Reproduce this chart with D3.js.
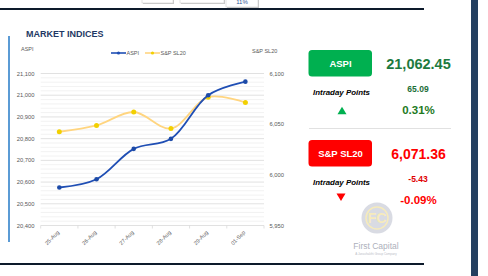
<!DOCTYPE html>
<html>
<head>
<meta charset="utf-8">
<script src="https://cdn.jsdelivr.net/npm/d3@7"></script>
<style>
	body { margin: 0; background: #fff; }
	svg { display: block; font-family: 'Liberation Sans', Arial, sans-serif; }
</style>
</head>
<body>
<script>
// chart data
const dates = ['25-Aug', '26-Aug', '27-Aug', '28-Aug', '29-Aug', '01-Sep'];
const aspi = [20575, 20613, 20753, 20799, 21000, 21062.45];
const spsl20 = [6042.5, 6048.7, 6062, 6045.7, 6076.6, 6071.36];
const leftTicks = [20400, 20500, 20600, 20700, 20800, 20900, 21000, 21100];
const rightTicks = [5950, 6000, 6050, 6100];

// summary panel
const idxNames = ['ASPI', 'S&P SL20'];
const idxValues = ['21,062.45', '6,071.36'];
const idxPoints = ['65.09', '-5.43'];
const idxPct = ['0.31%', '-0.09%'];

const width = 488;
const height = 276;

const svg = d3.select('body').append('svg').attr('width', width).attr('height', height);

/*
	frame bits: top cells, rules, strips
*/
const gFrame = svg.append('g');
[[142, 31, 3], [180, 44, 3], [226, 32, 7]].forEach(([x, w, b]) => {
	gFrame.append('rect').attr('x', x + 1).attr('y', -6).attr('width', w).attr('height', b + 7).attr('fill', '#c8c8c8');
	gFrame.append('rect').attr('x', x).attr('y', -6).attr('width', w).attr('height', b + 6)
		.attr('fill', '#fff').attr('stroke', '#d0d0d0').attr('stroke-width', 0.6);
});
gFrame.append('text').attr('x', 242).attr('y', 4).attr('text-anchor', 'middle')
	.style('font-size', '6px').attr('fill', '#2f5597').text('11%');
gFrame.append('rect').attr('x', 0).attr('y', 8).attr('width', 424).attr('height', 2).attr('fill', '#0d1a2b');
gFrame.append('rect').attr('x', 0).attr('y', 263).attr('width', 424).attr('height', 2).attr('fill', '#0d1a2b');
gFrame.append('rect').attr('x', 471).attr('y', 0).attr('width', 7).attr('height', height).attr('fill', '#243f60');
gFrame.append('rect').attr('x', 8).attr('y', 36).attr('width', 2).attr('height', 206).attr('fill', '#5b9bd5');

svg.append('text').attr('x', 26).attr('y', 36.5)
	.style('font-size', '9px').style('font-weight', 'bold').attr('fill', '#1f3864')
	.text('MARKET INDICES');

/*
	line chart
*/
const x = d3.scaleBand().domain(dates).range([40.7, 264]);
const yL = d3.scaleLinear().domain([20400, 21100]).range([225.5, 73.5]);
const yR = d3.scaleLinear().domain([5950, 6100]).range([225.5, 73.5]);

const gGrid = svg.append('g');
gGrid.selectAll('line.minor')
	.data(d3.range(20420, 21100, 20).filter((v) => v % 100 !== 0))
	.join('line')
	.attr('x1', 40.7).attr('x2', 264)
	.attr('y1', (d) => yL(d)).attr('y2', (d) => yL(d))
	.attr('stroke', '#efefef').attr('stroke-width', 0.8);
gGrid.selectAll('line.major')
	.data(leftTicks)
	.join('line')
	.attr('x1', 40.7).attr('x2', 264)
	.attr('y1', (d) => yL(d)).attr('y2', (d) => yL(d))
	.attr('stroke', '#d9d9d9').attr('stroke-width', 0.8);

// x axis ticks and labels
const gX = svg.append('g').attr('transform', `translate(0,${yL(20400)})`);
gX.selectAll('line.tick')
	.data(dates.concat(['end']))
	.join('line')
	.attr('x1', (d, i) => 40.7 + i * x.bandwidth()).attr('x2', (d, i) => 40.7 + i * x.bandwidth())
	.attr('y1', 0).attr('y2', 3)
	.attr('stroke', '#d9d9d9').attr('stroke-width', 0.8);
gX.selectAll('text')
	.data(dates)
	.join('text')
	.attr('transform', (d) => `translate(${x(d) + x.bandwidth() / 2 - 1},6) rotate(-45)`)
	.attr('text-anchor', 'end')
	.attr('dy', '0.35em')
	.style('font-size', '5.5px').attr('fill', '#595959')
	.text((d) => d);

// y axes labels
svg.append('g').selectAll('text')
	.data(leftTicks)
	.join('text')
	.attr('x', 34.5).attr('y', (d) => yL(d)).attr('dy', '0.35em')
	.attr('text-anchor', 'end')
	.style('font-size', '5.8px').attr('fill', '#595959')
	.text((d) => d3.format(',')(d));
svg.append('g').selectAll('text')
	.data(rightTicks)
	.join('text')
	.attr('x', 269.5).attr('y', (d) => yR(d)).attr('dy', '0.35em')
	.style('font-size', '5.8px').attr('fill', '#595959')
	.text((d) => d3.format(',')(d));

svg.append('text').attr('x', 21).attr('y', 51).style('font-size', '5.5px').attr('fill', '#595959').text('ASPI');
svg.append('text').attr('x', 252).attr('y', 52.5).style('font-size', '5.5px').attr('fill', '#595959').text('S&P SL20');

// legend
const gLegend = svg.append('g');
gLegend.append('line').attr('x1', 111).attr('x2', 126).attr('y1', 53).attr('y2', 53).attr('stroke', '#1f4eb4').attr('stroke-width', 1.6);
gLegend.append('circle').attr('cx', 118.5).attr('cy', 53).attr('r', 1.6).attr('fill', '#1f4eb4');
gLegend.append('text').attr('x', 126.5).attr('y', 55).style('font-size', '5.5px').attr('fill', '#595959').text('ASPI');
gLegend.append('line').attr('x1', 145).attr('x2', 160).attr('y1', 53).attr('y2', 53).attr('stroke', '#ffd580').attr('stroke-width', 1.6);
gLegend.append('circle').attr('cx', 152.5).attr('cy', 53).attr('r', 1.6).attr('fill', '#f2d000');
gLegend.append('text').attr('x', 160.5).attr('y', 55).style('font-size', '5.5px').attr('fill', '#595959').text('S&P SL20');

const cx = (d, i) => x(dates[i]) + x.bandwidth() / 2;

const lineR = d3.line().x(cx).y((d) => yR(d)).curve(d3.curveCatmullRom.alpha(0.5));
const lineL = d3.line().x(cx).y((d) => yL(d)).curve(d3.curveCatmullRom.alpha(0.5));

svg.append('path').attr('d', lineR(spsl20)).attr('fill', 'none')
	.attr('stroke', '#ffd580').attr('stroke-width', 1.8).attr('stroke-linecap', 'round');
svg.append('g').selectAll('circle')
	.data(spsl20)
	.join('circle')
	.attr('cx', cx).attr('cy', (d) => yR(d)).attr('r', 2.5)
	.attr('fill', '#f2d000');

svg.append('path').attr('d', lineL(aspi)).attr('fill', 'none')
	.attr('stroke', '#1f4eb4').attr('stroke-width', 1.8).attr('stroke-linecap', 'round');
svg.append('g').selectAll('circle')
	.data(aspi)
	.join('circle')
	.attr('cx', cx).attr('cy', (d) => yL(d)).attr('r', 2.3)
	.attr('fill', '#1c4aa8');

/*
	summary panel
*/
const boxColors = ['#00b050', '#ff0000'];
const txtColors = ['#1d7a3e', '#ff0000'];
const smallColors = ['#1a6e36', '#e00000'];
const pctColors = ['#1e7a1e', '#ff0000'];
const panelTop = [50, 140];

idxNames.forEach((name, i) => {
	const top = panelTop[i];
	const g = svg.append('g');
	g.append('rect').attr('x', 308.5).attr('y', top).attr('width', 63.5).attr('height', 26.5).attr('rx', 3.5)
		.attr('fill', boxColors[i]);
	g.append('text').attr('x', 340.5).attr('y', top + 13.5).attr('dy', '0.35em').attr('text-anchor', 'middle')
		.style('font-size', '9.5px').style('font-weight', 'bold').attr('fill', '#fff').text(name);
	g.append('text').attr('x', 418.5).attr('y', top + 13.5).attr('dy', '0.36em').attr('text-anchor', 'middle')
		.style('font-size', i === 0 ? '14.5px' : '14px').style('font-weight', 'bold').attr('fill', txtColors[i]).text(idxValues[i]);
	g.append('text').attr('x', 341.5).attr('y', top + 42.3).attr('dy', '0.35em').attr('text-anchor', 'middle')
		.style('font-size', '7.9px').style('font-weight', 'bold').style('font-style', 'italic').attr('fill', '#000')
		.text('Intraday Points');
	g.append('text').attr('x', 418).attr('y', top + 39).attr('dy', '0.35em').attr('text-anchor', 'middle')
		.style('font-size', '8.5px').style('font-weight', '600').attr('fill', smallColors[i]).text(idxPoints[i]);
	g.append('text').attr('x', 418.5).attr('y', top + 59.5).attr('dy', '0.36em').attr('text-anchor', 'middle')
		.style('font-size', '11.5px').style('font-weight', 'bold').attr('fill', pctColors[i]).text(idxPct[i]);
	const tx = i === 0 ? 342 : 341;
	const ty = i === 0 ? 110.7 : 197;
	const tri = i === 0
		? `M${tx},${ty - 4} L${tx + 4.5},${ty + 3.5} L${tx - 4.5},${ty + 3.5} Z`
		: `M${tx - 4.5},${ty - 3.5} L${tx + 4.5},${ty - 3.5} L${tx},${ty + 4} Z`;
	g.append('path').attr('d', tri).attr('fill', i === 0 ? '#00b050' : '#ff0000');
});

svg.append('line').attr('x1', 309).attr('x2', 451).attr('y1', 128.5).attr('y2', 128.5)
	.attr('stroke', '#d9d9d9').attr('stroke-width', 0.8);

// faded logo
const gLogo = svg.append('g').attr('opacity', 0.7);
gLogo.append('circle').attr('cx', 377).attr('cy', 218).attr('r', 15.5).attr('fill', '#c9ccd8');
gLogo.append('circle').attr('cx', 377).attr('cy', 218).attr('r', 11).attr('fill', 'none').attr('stroke', '#f3e3a0').attr('stroke-width', 1.5);
gLogo.append('text').attr('x', 377).attr('y', 223).attr('text-anchor', 'middle')
	.style('font-size', '14px').style('font-weight', 'bold').attr('fill', '#f3e3a0').text('FC');
gLogo.append('text').attr('x', 376).attr('y', 249).attr('text-anchor', 'middle')
	.style('font-size', '8.5px').attr('fill', '#8a8fa0').text('First Capital');
gLogo.append('text').attr('x', 376).attr('y', 254.5).attr('text-anchor', 'middle')
	.style('font-size', '3px').attr('fill', '#a0a4b0').text('A Janashakthi Group Company');
</script>
</body>
</html>
